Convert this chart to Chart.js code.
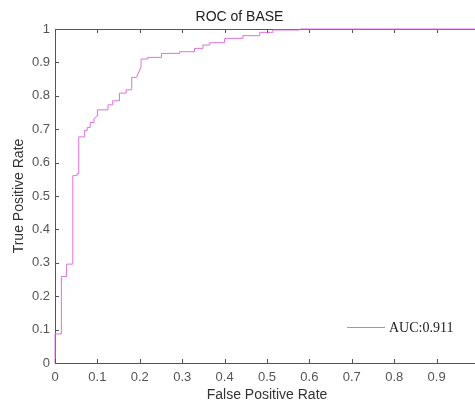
<!DOCTYPE html>
<html>
<head>
<meta charset="utf-8">
<script src="https://cdn.jsdelivr.net/npm/chart.js@4.4.1/dist/chart.umd.min.js"></script>
<style>
  html, body { margin: 0; padding: 0; background: #fff; overflow: hidden; }
  #wrap { width: 490px; height: 405px; }
</style>
</head>
<body>
<div id="wrap"><canvas id="chart-roc" width="490" height="405"></canvas></div>
<script>
// ROC curve vertices
const fpr = [0, 0, 0.015, 0.015, 0.026, 0.026, 0.028, 0.028, 0.042, 0.042, 0.052, 0.052, 0.056, 0.056,
    0.07, 0.07, 0.076, 0.076, 0.083, 0.083, 0.092, 0.092, 0.1, 0.1, 0.125, 0.125, 0.136, 0.136,
    0.152, 0.152, 0.168, 0.168, 0.181, 0.181, 0.192, 0.203, 0.203, 0.219, 0.219, 0.251, 0.251,
    0.294, 0.294, 0.329, 0.329, 0.349, 0.349, 0.365, 0.365, 0.4, 0.4, 0.443, 0.443, 0.483, 0.483,
    0.514, 0.514, 0.577, 0.577, 1];
const tpr = [0, 0.087, 0.087, 0.259, 0.259, 0.264, 0.264, 0.296, 0.296, 0.561, 0.561, 0.567, 0.567, 0.677,
    0.677, 0.696, 0.696, 0.705, 0.705, 0.72, 0.72, 0.732, 0.74, 0.758, 0.758, 0.773, 0.773, 0.785,
    0.785, 0.808, 0.808, 0.818, 0.818, 0.855, 0.855, 0.887, 0.91, 0.91, 0.915, 0.915, 0.927,
    0.927, 0.932, 0.932, 0.942, 0.942, 0.952, 0.952, 0.959, 0.959, 0.972, 0.972, 0.98, 0.98, 0.99,
    0.99, 0.997, 0.997, 1, 1];
const tickValues = [0, 0.1, 0.2, 0.3, 0.4, 0.5, 0.6, 0.7, 0.8, 0.9, 1];
const aucLabel = 'AUC:0.911';
const curveColor = '#e070e0';
const axisColor = '#555';

// top/right box lines go under the curve
const boxLines = {
    id: 'boxLines',
    beforeDatasetsDraw(chart) {
        const ctx = chart.ctx;
        const a = chart.chartArea;
        ctx.save();
        ctx.strokeStyle = axisColor;
        ctx.lineWidth = 1;
        ctx.beginPath();
        ctx.moveTo(a.left, a.top + 0.5);
        ctx.lineTo(a.right, a.top + 0.5);
        ctx.lineTo(a.right, a.bottom);
        ctx.stroke();
        ctx.restore();
    }
};

// inward tick marks + legend, like the matlab figure
const boxTicks = {
    id: 'boxTicks',
    afterDatasetsDraw(chart) {
        const ctx = chart.ctx;
        const a = chart.chartArea;
        const xs = chart.scales.x, ys = chart.scales.y;
        ctx.save();
        ctx.strokeStyle = axisColor;
        ctx.lineWidth = 1;
        ctx.beginPath();
        tickValues.forEach(v => {
            const px = Math.round(xs.getPixelForValue(v)) + 0.5;
            ctx.moveTo(px, a.bottom);
            ctx.lineTo(px, a.bottom - 4);
            ctx.moveTo(px, a.top + 1);
            ctx.lineTo(px, a.top + 4);
            const py = Math.round(ys.getPixelForValue(v)) + 0.5;
            ctx.moveTo(a.left, py);
            ctx.lineTo(a.left + 4, py);
        });
        ctx.stroke();

        // legend in the lower right corner
        const ly = a.bottom - 36;
        const lx = a.right - 132;
        ctx.strokeStyle = curveColor;
        ctx.beginPath();
        ctx.moveTo(lx, ly + 0.5);
        ctx.lineTo(lx + 38, ly + 0.5);
        ctx.stroke();
        ctx.fillStyle = '#222';
        ctx.font = '14px "Liberation Serif", serif';
        ctx.textBaseline = 'middle';
        ctx.fillText(aucLabel, lx + 42, ly + 1);
        ctx.restore();
    }
};

function loadChartRoc() {
    const ctx = document.getElementById('chart-roc').getContext('2d');
    const myChart = new Chart(ctx, {
        type: 'scatter',
        data: {
            datasets: [{
                label: aucLabel,
                data: fpr.map((x, i) => ({x: x, y: tpr[i]})),
                showLine: true,
                clip: 3,
                borderColor: curveColor,
                backgroundColor: curveColor,
                borderWidth: 1,
                pointRadius: 0,
                tension: 0
            }]
        },
        options: {
            responsive: false,
            animation: false,
            layout: { padding: { left: 0, right: 11, top: 0, bottom: 0 } },
            plugins: {
                legend: { display: false },
                tooltip: { enabled: false },
                title: {
                    display: true,
                    text: 'ROC of BASE',
                    color: '#222',
                    font: { family: '"Liberation Sans", Arial, sans-serif', size: 14, weight: 'normal' },
                    padding: { top: 8.6, bottom: 3.6 }
                }
            },
            scales: {
                x: {
                    type: 'linear',
                    min: 0,
                    max: 1,
                    afterFit: s => { s.height = 42; },
                    afterBuildTicks: s => { s.ticks = tickValues.map(v => ({value: v})); },
                    grid: { display: false, drawTicks: false },
                    border: { display: true, color: axisColor },
                    ticks: {
                        padding: 7,
                        color: '#555',
                        maxRotation: 0,
                        font: { family: '"Liberation Sans", Arial, sans-serif', size: 13 },
                        callback: v => String(Math.round(v * 10) / 10)
                    },
                    title: {
                        display: true,
                        text: 'False Positive Rate',
                        color: '#333',
                        font: { family: '"Liberation Sans", Arial, sans-serif', size: 14 },
                        padding: { top: 0, bottom: 1 }
                    }
                },
                y: {
                    type: 'linear',
                    min: 0,
                    max: 1,
                    afterFit: s => { s.width = 55; },
                    afterBuildTicks: s => { s.ticks = tickValues.map(v => ({value: v})); },
                    grid: { display: false, drawTicks: false },
                    border: { display: true, color: axisColor },
                    ticks: {
                        padding: 5,
                        color: '#555',
                        font: { family: '"Liberation Sans", Arial, sans-serif', size: 13 },
                        callback: v => String(Math.round(v * 10) / 10)
                    },
                    title: {
                        display: true,
                        text: 'True Positive Rate',
                        color: '#333',
                        font: { family: '"Liberation Sans", Arial, sans-serif', size: 14 },
                        padding: { top: 11, bottom: 0 }
                    }
                }
            }
        },
        plugins: [boxLines, boxTicks]
    });
}

loadChartRoc();
</script>
</body>
</html>
